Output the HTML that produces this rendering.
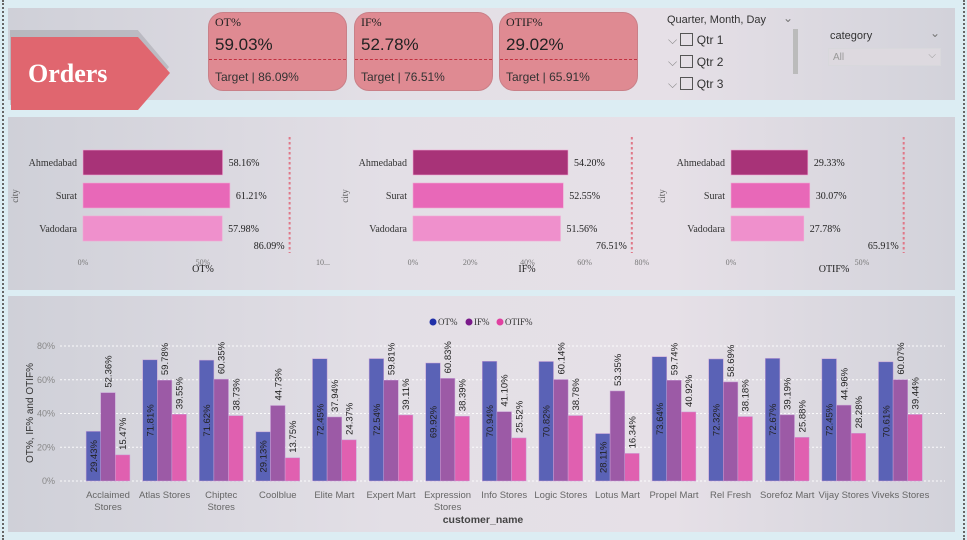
<!DOCTYPE html>
<html><head><meta charset="utf-8">
<style>
html,body{margin:0;padding:0}
body{width:967px;height:540px;position:relative;overflow:hidden;background:#dcedf3;font-family:"Liberation Sans",sans-serif}
.panel{position:absolute;left:8px;width:947px;background:linear-gradient(90deg,#cfd0d8 0%,#e3dfe6 40%,#e6e0e7 70%,#d2d2da 100%)}
.dots{position:absolute;top:0;bottom:0;width:0;border-left:2px dotted #666}
.card{position:absolute;top:12px;height:77px;width:137px;background:#df8a92;border-radius:15px;border:1px solid #c98088}
.card .t{position:absolute;left:6px;top:2px;font:12px "Liberation Serif",serif;color:#222}
.card .v{position:absolute;left:6px;top:22px;font:17px "Liberation Sans",sans-serif;color:#222}
.card .d{position:absolute;left:0;right:0;top:46px;border-top:1px dashed #c23040}
.card .g{position:absolute;left:6px;top:57px;font:12px "Liberation Sans",sans-serif;color:#333}
.sl{position:absolute;font-size:12px;color:#333}
</style></head><body>
<div class="dots" style="left:2px"></div>
<div class="dots" style="left:963px"></div>

<div class="panel" style="top:8px;height:92px"></div>
<svg style="position:absolute;left:0;top:30px" width="180" height="84">
<polygon points="13,2 140,2 172,40 140,78 13,78" fill="#8a8a90" opacity="0.35" transform="translate(-3,-3)"/>
<polygon points="11,7 138,7 170,43 138,80 11,80" fill="#e0666f"/>
<text x="28" y="52" fill="#fff" font-family="Liberation Serif,serif" font-weight="bold" font-size="26">Orders</text>
</svg>

<div class="card" style="left:208px"><div class="t">OT%</div><div class="v">59.03%</div><div class="d"></div><div class="g">Target | 86.09%</div></div>
<div class="card" style="left:354px"><div class="t">IF%</div><div class="v">52.78%</div><div class="d"></div><div class="g">Target | 76.51%</div></div>
<div class="card" style="left:499px"><div class="t">OTIF%</div><div class="v">29.02%</div><div class="d"></div><div class="g">Target | 65.91%</div></div>

<div class="sl" style="left:667px;top:14px;font-size:11px">Quarter, Month, Day</div>
<div class="sl" style="left:783px;top:11px;color:#777">⌄</div>
<div class="sl" style="left:668px;top:33px"><span style="color:#888">⌵</span> <span style="display:inline-block;width:11px;height:11px;border:1px solid #555;vertical-align:-2px"></span> Qtr 1</div>
<div class="sl" style="left:668px;top:55px"><span style="color:#888">⌵</span> <span style="display:inline-block;width:11px;height:11px;border:1px solid #555;vertical-align:-2px"></span> Qtr 2</div>
<div class="sl" style="left:668px;top:77px"><span style="color:#888">⌵</span> <span style="display:inline-block;width:11px;height:11px;border:1px solid #555;vertical-align:-2px"></span> Qtr 3</div>
<div style="position:absolute;left:793px;top:29px;width:5px;height:45px;background:#bbb"></div>
<div class="sl" style="left:830px;top:30px;font-size:11px">category</div>
<div class="sl" style="left:930px;top:26px;color:#777">⌄</div>
<div style="position:absolute;left:828px;top:48px;width:113px;height:18px;border:1px solid #d8d8dc;background:#ddd9df;font-size:10px;color:#999;line-height:18px;padding-left:4px;box-sizing:border-box">All<span style="position:absolute;right:4px;top:-2px">⌵</span></div>

<div class="panel" style="top:117px;height:173px"></div>
<svg id="mid" style="position:absolute;left:0;top:0" width="967" height="300"></svg>

<div class="panel" style="top:296px;height:236px"></div>
<svg id="bot" style="position:absolute;left:0;top:0" width="967" height="540"></svg>

<script>
const NS="http://www.w3.org/2000/svg";
function mk(p,tag,attrs,txt){const e=document.createElementNS(NS,tag);for(const k in attrs)e.setAttribute(k,attrs[k]);if(txt!==undefined)e.textContent=txt;p.appendChild(e);return e;}

// ---- city charts data
const cities=["Ahmedabad","Surat","Vadodara"];
const otCity=[58.16,61.21,57.98];
const ifCity=[54.20,52.55,51.56];
const otifCity=[29.33,30.07,27.78];
const cityTargets=[86.09,76.51,65.91];
const cityTitles=["OT%","IF%","OTIF%"];
const otTicks=[0,50,100];
const ifTicks=[0,20,40,60,80];
const otifTicks=[0,50];

const mid=document.getElementById('mid');
const cityCols=["#a83378","#e868b8","#ef90cc"];
const cfg=[{x0:83,ppu:2.4,vals:otCity,ticks:otTicks,cityX:15,tickFmt:v=>v>=100?"10...":v+"%"},
 {x0:413,ppu:2.86,vals:ifCity,ticks:ifTicks,cityX:345,tickFmt:v=>v+"%"},
 {x0:731,ppu:2.62,vals:otifCity,ticks:otifTicks,cityX:662,tickFmt:v=>v+"%"}];
const rowY=[150,183,216];
cfg.forEach((c,ci)=>{
  const sx=v=>c.x0+v*c.ppu;
  const g=mk(mid,'g',{});
  
  
  c.vals.forEach((v,i)=>{
    const r=mk(g,'rect',{x:c.x0,y:rowY[i],width:sx(v)-c.x0,height:25,fill:cityCols[i],stroke:"#f2a8d4","stroke-width":0.6});
    
    
    const l=mk(g,'text',{x:sx(v)+6,y:rowY[i]+16,"font-size":10,"font-family":"Liberation Serif,serif",fill:"#222"},v.toFixed(2)+"%");
    
    
    const cl=mk(g,'text',{x:c.x0-6,y:rowY[i]+16,"font-size":10,"font-family":"Liberation Serif,serif",fill:"#333","text-anchor":"end"},cities[i]);
    
    
  });
  const tx=sx(cityTargets[ci]);
  const tl=mk(g,'line',{x1:tx,x2:tx,y1:137,y2:253,stroke:"#e07888","stroke-width":2,"stroke-dasharray":"2.5,2.5"});
  
  
  const tt=mk(g,'text',{x:tx-5,y:249,"font-size":10,"font-family":"Liberation Serif,serif",fill:"#222","text-anchor":"end"},cityTargets[ci].toFixed(2)+"%");
  
  
  c.ticks.forEach(t=>{
    const e=mk(g,'text',{x:sx(t),y:265,"font-size":8,"font-family":"Liberation Serif,serif",fill:"#777","text-anchor":"middle"},c.tickFmt(t));
    
    
  });
  const at=mk(g,'text',{x:[203,527,834][ci],y:272,"font-size":10,"font-family":"Liberation Serif,serif",fill:"#222","text-anchor":"middle"},cityTitles[ci]);
  
  
  const ct=mk(g,'text',{x:0,y:0,"font-size":9,"font-family":"Liberation Serif,serif",fill:"#555","text-anchor":"middle",transform:`translate(${c.cityX+3},196) rotate(-90)`},"city");
  
  
});

// ---- customer chart data
const customers=[["Acclaimed","Stores"],["Atlas Stores"],["Chiptec","Stores"],["Coolblue"],["Elite Mart"],["Expert Mart"],["Expression","Stores"],["Info Stores"],["Logic Stores"],["Lotus Mart"],["Propel Mart"],["Rel Fresh"],["Sorefoz Mart"],["Vijay Stores"],["Viveks Stores"]];
const otVals=[29.43,71.81,71.62,29.13,72.45,72.54,69.92,70.94,70.82,28.11,73.64,72.32,72.67,72.45,70.61];
const ifVals=[52.36,59.78,60.35,44.73,37.94,59.81,60.83,41.10,60.14,53.35,59.74,58.69,39.19,44.96,60.07];
const otifVals=[15.47,39.55,38.73,13.75,24.37,39.11,38.39,25.52,38.78,16.34,40.92,38.18,25.88,28.28,39.44];
const yTicks=[0,20,40,60,80];

const bot=document.getElementById('bot');
const y0=481, ppy=(481-346)/80;
const sy=v=>y0-v*ppy;
const gx=i=>108+i*56.6;
const bw=14.6;
yTicks.forEach(t=>{
  const gl=mk(bot,'line',{x1:60,x2:945,y1:sy(t),y2:sy(t),stroke:"#fff","stroke-width":1,"stroke-dasharray":"2,2",opacity:0.9});
  
  
  const tl=mk(bot,'text',{x:55,y:sy(t)+3,"font-size":9,fill:"#888","text-anchor":"end"},t+"%");
  
  
});
const yt=mk(bot,'text',{x:0,y:0,"font-size":10,fill:"#333","text-anchor":"middle",transform:"translate(33,413) rotate(-90)"},"OT%, IF% and OTIF%");


const series=[{v:otVals,c:"#5a62b6",n:"ot"},{v:ifVals,c:"#9c5aa6",n:"if"},{v:otifVals,c:"#e060b0",n:"otif"}];
customers.forEach((nm,i)=>{
  series.forEach((s,si)=>{
    const v=s.v[i];
    const x=gx(i)-1.5*bw+si*bw;
    const r=mk(bot,'rect',{x:x,y:sy(v),width:bw,height:y0-sy(v),fill:s.c,stroke:"#c9a0d8","stroke-width":0.5});
    
    
    let tx,ty,anchor;
    if(si===0){tx=x+bw/2+3.5;ty=(sy(v)+y0)/2;anchor="middle";}
    else{tx=x+bw/2+3.5;ty=sy(v)-5;anchor="start";}
    const l=mk(bot,'text',{x:0,y:0,"font-size":9.5,fill:"#222","text-anchor":anchor,transform:`translate(${tx},${ty}) rotate(-90)`},v.toFixed(2)+"%");
    
    
  });
  nm.forEach((line,li)=>{
    const c=mk(bot,'text',{x:gx(i),y:498+li*12,"font-size":9.5,fill:"#666","text-anchor":"middle"},line);
    
    
  });
});
const xt=mk(bot,'text',{x:483,y:523,"font-size":10.5,"font-weight":"bold",fill:"#444","text-anchor":"middle"},"customer_name");


const leg=[["OT%","#2030a8",433],["IF%","#7a1a8a",469],["OTIF%","#e040a0",500]];
leg.forEach(([t,c,x])=>{
  const g=mk(bot,'g',{});
  
  
  mk(g,'circle',{cx:x,cy:322,r:3.5,fill:c});
  mk(g,'text',{x:x+5,y:325,"font-size":9,"font-family":"Liberation Serif,serif",fill:"#333"},t);
});
</script>
</body></html>
